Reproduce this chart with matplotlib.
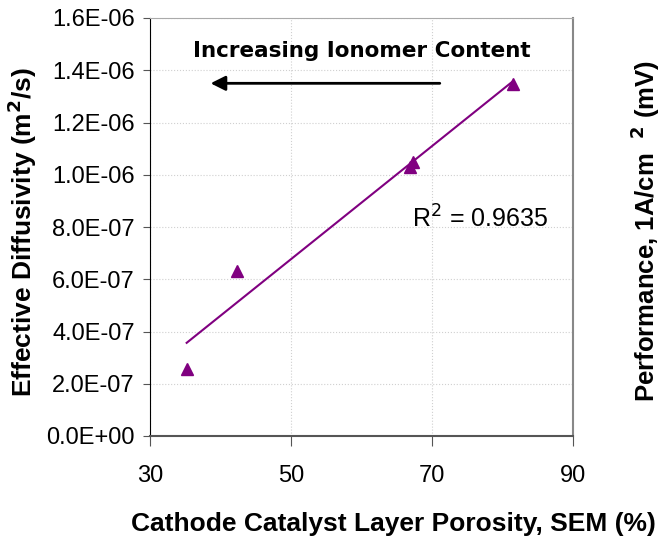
import numpy as np
import matplotlib
matplotlib.use('Agg')
import matplotlib.pyplot as plt

plt.rcParams['font.family'] = ['Liberation Sans', 'DejaVu Sans']

# Data
porosity = [35.2, 42.3, 66.9, 67.3, 81.5]
diffusivity = [2.57e-7, 6.33e-7, 1.03e-6, 1.05e-6, 1.349e-6]
y_ticks = [0, 2e-7, 4e-7, 6e-7, 8e-7, 1.0e-6, 1.2e-6, 1.4e-6, 1.6e-6]
x_ticks = [30, 50, 70, 90]
r2_text = 'R$^2$ = 0.9635'

purple = '#800080'

fig = plt.figure(figsize=(6.6, 5.39), dpi=100)
ax = fig.add_axes([150 / 660, 1 - 436 / 539, 423 / 660, 418 / 539])

# linear trendline over data range
slope, intercept = np.polyfit(porosity, diffusivity, 1)
xs = np.array([min(porosity), max(porosity)])
ax.plot(xs, slope * xs + intercept, color=purple, lw=1.5, zorder=3)
ax.plot(porosity, diffusivity, ls='none', marker='^', ms=9, color=purple, zorder=4)

ax.set_xlim(30, 90)
ax.set_ylim(0, 1.6e-6)
ax.set_xticks(x_ticks)
ax.set_yticks(y_ticks)
ax.set_yticklabels(['%.1E' % v for v in y_ticks])
ax.grid(True, color='#d0d0d0', ls=':', lw=0.8)
ax.set_axisbelow(True)

ax.tick_params(axis='y', direction='out', length=5, labelsize=17, pad=6, color='#555555')
ax.tick_params(axis='x', direction='out', length=7, labelsize=17, pad=14, color='#555555')

ax.spines['left'].set_color('black')
ax.spines['bottom'].set_color('#555555')
ax.spines['bottom'].set_linewidth(1.5)
ax.spines['right'].set_color('#888888')
ax.spines['right'].set_linewidth(1.5)
ax.spines['top'].set_color('#aaaaaa')

ax.set_xlabel('Cathode Catalyst Layer Porosity, SEM (%)', fontsize=19, fontweight='bold')
ax.set_ylabel('Effective Diffusivity (m$^\\mathbf{2}$/s)', fontsize=19, fontweight='bold')
ax.xaxis.set_label_coords((393 - 150) / 423, -(512 - 436) / 418)
ax.yaxis.set_label_coords(-(150 - 39) / 423, (436 - 232) / 418)

ax.text(67.2, 0.83e-6, r2_text, fontsize=18, va='center')

ax.annotate('', xy=(38.2, 1.35e-6), xytext=(71.5, 1.35e-6),
            arrowprops=dict(arrowstyle='-|>', color='black', lw=2, mutation_scale=22))
ax.text(60.1, 1.475e-6, 'Increasing Ionomer Content', fontsize=15.5, fontweight='bold',
        family='DejaVu Sans', ha='center', va='center')

fig.text(645 / 660, 1 - 231 / 539, 'Performance, 1A/cm  $^\\mathbf{2}$ (mV)', rotation=90,
         fontsize=18.5, fontweight='bold', ha='center', va='center')

fig.savefig('out.png', dpi=100)
